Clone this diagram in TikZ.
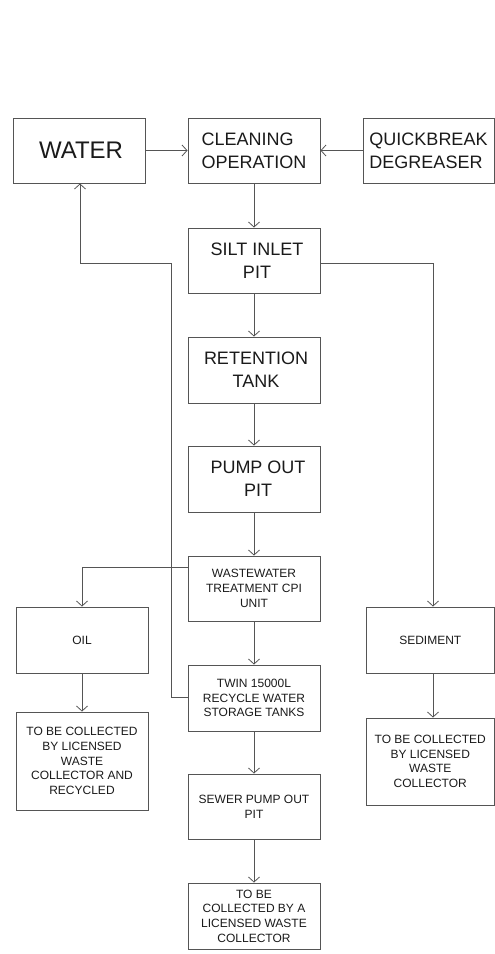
\documentclass[tikz,border=0pt]{standalone}
\usepackage{fontspec}
\setmainfont{Liberation Sans}
\usetikzlibrary{arrows.meta}
\definecolor{ln}{HTML}{555555}
\definecolor{tx}{HTML}{1A1A1A}
\tikzset{
  box/.style={draw=ln, line width=0.9pt, text=tx, inner sep=0pt, align=center},
  big/.style={font=\fontsize{18}{23}\selectfont},
  small/.style={font=\fontsize{12}{14.7}\selectfont},
  flow/.style={draw=ln, line width=0.8pt, -{Straight Barb[length=5pt,width=11pt,line width=0.8pt]}},
}
\begin{document}
\begin{tikzpicture}[x=1pt,y=-1pt]
\useasboundingbox (0,0) rectangle (495,954);
% top row
\node[box, minimum width=132, minimum height=65, font=\fontsize{24}{28}\selectfont] (water) at (79,150.5) {\hspace*{4pt}WATER};
\node[box, big, align=left, minimum width=132, minimum height=65] (clean) at (254,150.5) {CLEANING\\OPERATION};
\node[box, big, align=left, minimum width=131, minimum height=65] (quick) at (428.5,150.5) {QUICKBREAK\\DEGREASER};
% centre column
\node[box, big, minimum width=132, minimum height=65] (silt) at (254,260.5) {\hspace*{6pt}SILT INLET\\\hspace*{6pt}PIT};
\node[box, big, minimum width=132, minimum height=66] (ret) at (254,370) {\hspace*{4pt}RETENTION\\\hspace*{4pt}TANK};
\node[box, big, minimum width=132, minimum height=66] (pump) at (254,479) {\hspace*{8pt}PUMP OUT\\\hspace*{8pt}PIT};
\node[box, small, minimum width=132, minimum height=65] (ww) at (254,588.5) {WASTEWATER\\TREATMENT CPI\\UNIT};
\node[box, small, minimum width=132, minimum height=66] (twin) at (254,698) {TWIN 15000L\\RECYCLE WATER\\STORAGE TANKS};
\node[box, small, minimum width=132, minimum height=65] (sewer) at (254,806.5) {SEWER PUMP OUT\\PIT};
\node[box, small, minimum width=132, minimum height=66] (final) at (254,916) {TO BE\\COLLECTED BY A\\LICENSED WASTE\\COLLECTOR};
% left column
\node[box, small, minimum width=132, minimum height=66] (oil) at (82,640) {OIL};
\node[box, small, minimum width=132, minimum height=98] (oilc) at (82,761) {TO BE COLLECTED\\BY LICENSED\\WASTE\\COLLECTOR AND\\RECYCLED};
% right column
\node[box, small, minimum width=128.5, minimum height=66] (sed) at (430.25,640) {SEDIMENT};
\node[box, small, minimum width=128.5, minimum height=87] (sedc) at (430.25,761.5) {TO BE COLLECTED\\BY LICENSED\\WASTE\\COLLECTOR};
% connectors
\draw[flow] (water.east) -- (clean.west);
\draw[flow] (quick.west) -- (clean.east);
\draw[flow] (clean.south) -- (silt.north);
\draw[flow] (silt.south) -- (ret.north);
\draw[flow] (ret.south) -- (pump.north);
\draw[flow] (pump.south) -- (ww.north);
\draw[flow] (ww.south) -- (twin.north);
\draw[flow] (twin.south) -- (sewer.north);
\draw[flow] (sewer.south) -- (final.north);
\coordinate (sr) at (433,263);
\draw[flow] (silt.east |- sr) -- (sr) -- (sed.north -| sr);
\coordinate (ol) at (82,567);
\draw[flow] (ww.west |- ol) -- (ol) -- (oil.north);
\draw[flow] (oil.south) -- (oilc.north);
\draw[flow] (sed.south -| sr) -- (sedc.north -| sr);
\coordinate (r1) at (171,697);
\coordinate (r2) at (171,263);
\coordinate (r3) at (80,263);
\draw[flow] (twin.west |- r1) -- (r1) -- (r2) -- (r3) -- (water.south -| r3);
\end{tikzpicture}
\end{document}
